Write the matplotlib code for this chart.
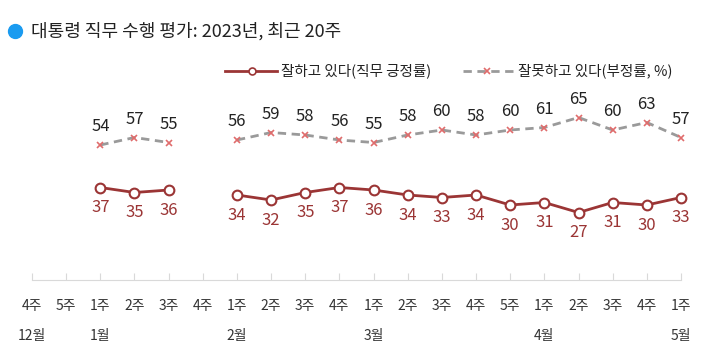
import matplotlib
matplotlib.use("Agg")
import matplotlib.pyplot as plt
import numpy as np

plt.rcParams['font.family'] = ['Noto Sans CJK KR', 'DejaVu Sans']

weeks = ["4주", "5주", "1주", "2주", "3주", "4주", "1주", "2주", "3주", "4주",
         "1주", "2주", "3주", "4주", "5주", "1주", "2주", "3주", "4주", "1주"]
months = {0: "12월", 2: "1월", 6: "2월", 10: "3월", 15: "4월", 19: "5월"}
positive = [np.nan, np.nan, 37, 35, 36, np.nan, 34, 32, 35, 37,
            36, 34, 33, 34, 30, 31, 27, 31, 30, 33]
negative = [np.nan, np.nan, 54, 57, 55, np.nan, 56, 59, 58, 56,
            55, 58, 60, 58, 60, 61, 65, 60, 63, 57]

W, H = 703, 361
fig = plt.figure(figsize=(W / 100, H / 100), dpi=100)
left, right, bottom_px = 32, 681, 280
ymax = 80
top_px = bottom_px - ymax * 2.5
ax = fig.add_axes([left / W, 1 - bottom_px / H, (right - left) / W, (bottom_px - top_px) / H])
ax.set_xlim(0, len(weeks) - 1)
ax.set_ylim(0, ymax)

x = np.arange(len(weeks))
pos_c = "#9b3535"
neg_line = "#9a9a9a"
neg_mark = "#e06c6c"

ax.plot(x, negative, color=neg_line, lw=2, ls=(0, (3, 2)), zorder=2, clip_on=False)
ax.plot(x, negative, ls='none', marker='x', ms=5, mew=1.2, color=neg_mark, zorder=3, clip_on=False)
ax.plot(x, positive, color=pos_c, lw=2, marker='o', ms=7, mfc='white', mec=pos_c, mew=1.5,
        zorder=4, clip_on=False)

for xi, v in zip(x, negative):
    if not np.isnan(v):
        ax.annotate(f"{v:.0f}", (xi, v), xytext=(0, 7), textcoords='offset points',
                    ha='center', va='bottom', fontsize=12, color='#222222')
for xi, v in zip(x, positive):
    if not np.isnan(v):
        ax.annotate(f"{v:.0f}", (xi, v), xytext=(0, -8.5), textcoords='offset points',
                    ha='center', va='top', fontsize=12, color=pos_c)

for s in ['top', 'right', 'left']:
    ax.spines[s].set_visible(False)
ax.spines['bottom'].set_color('#d9d9d9')
ax.set_yticks([])
ax.set_xticks(x)
ax.set_xticklabels(weeks, fontsize=10, color='#333333')
ax.tick_params(axis='x', direction='in', length=5, color='#d9d9d9', pad=14)
for i, m in months.items():
    ax.annotate(m, (i, 0), xytext=(0, -35), textcoords='offset points', ha='center', va='top',
                fontsize=10, color='#333333', annotation_clip=False)

# title
ty = 1 - 31 / H
fig.add_artist(plt.Line2D([15 / W], [ty], marker='o', ms=10, color='#1a9bf0', mec='#1a9bf0'))
fig.text(31 / W, ty, "대통령 직무 수행 평가: 2023년, 최근 20주", fontsize=13,
         va='center', ha='left', color='#222222')

# legend
ly = 1 - 71 / H
fig.add_artist(plt.Line2D([225 / W, 277 / W], [ly, ly], color=pos_c, lw=2))
fig.add_artist(plt.Line2D([252 / W], [ly], marker='o', ms=5, mfc='white', mec=pos_c, mew=1.2, color=pos_c))
fig.text(281 / W, ly, "잘하고 있다(직무 긍정률)", fontsize=10.5, va='center', ha='left', color='#222222')
fig.add_artist(plt.Line2D([463 / W, 513 / W], [ly, ly], color=neg_line, lw=2, ls=(0, (3, 2))))
fig.add_artist(plt.Line2D([487 / W], [ly], marker='x', ms=5, mew=1.2, color=neg_mark))
fig.text(518 / W, ly, "잘못하고 있다(부정률, %)", fontsize=10.5, va='center', ha='left', color='#222222')

fig.savefig("out.png", dpi=100)
